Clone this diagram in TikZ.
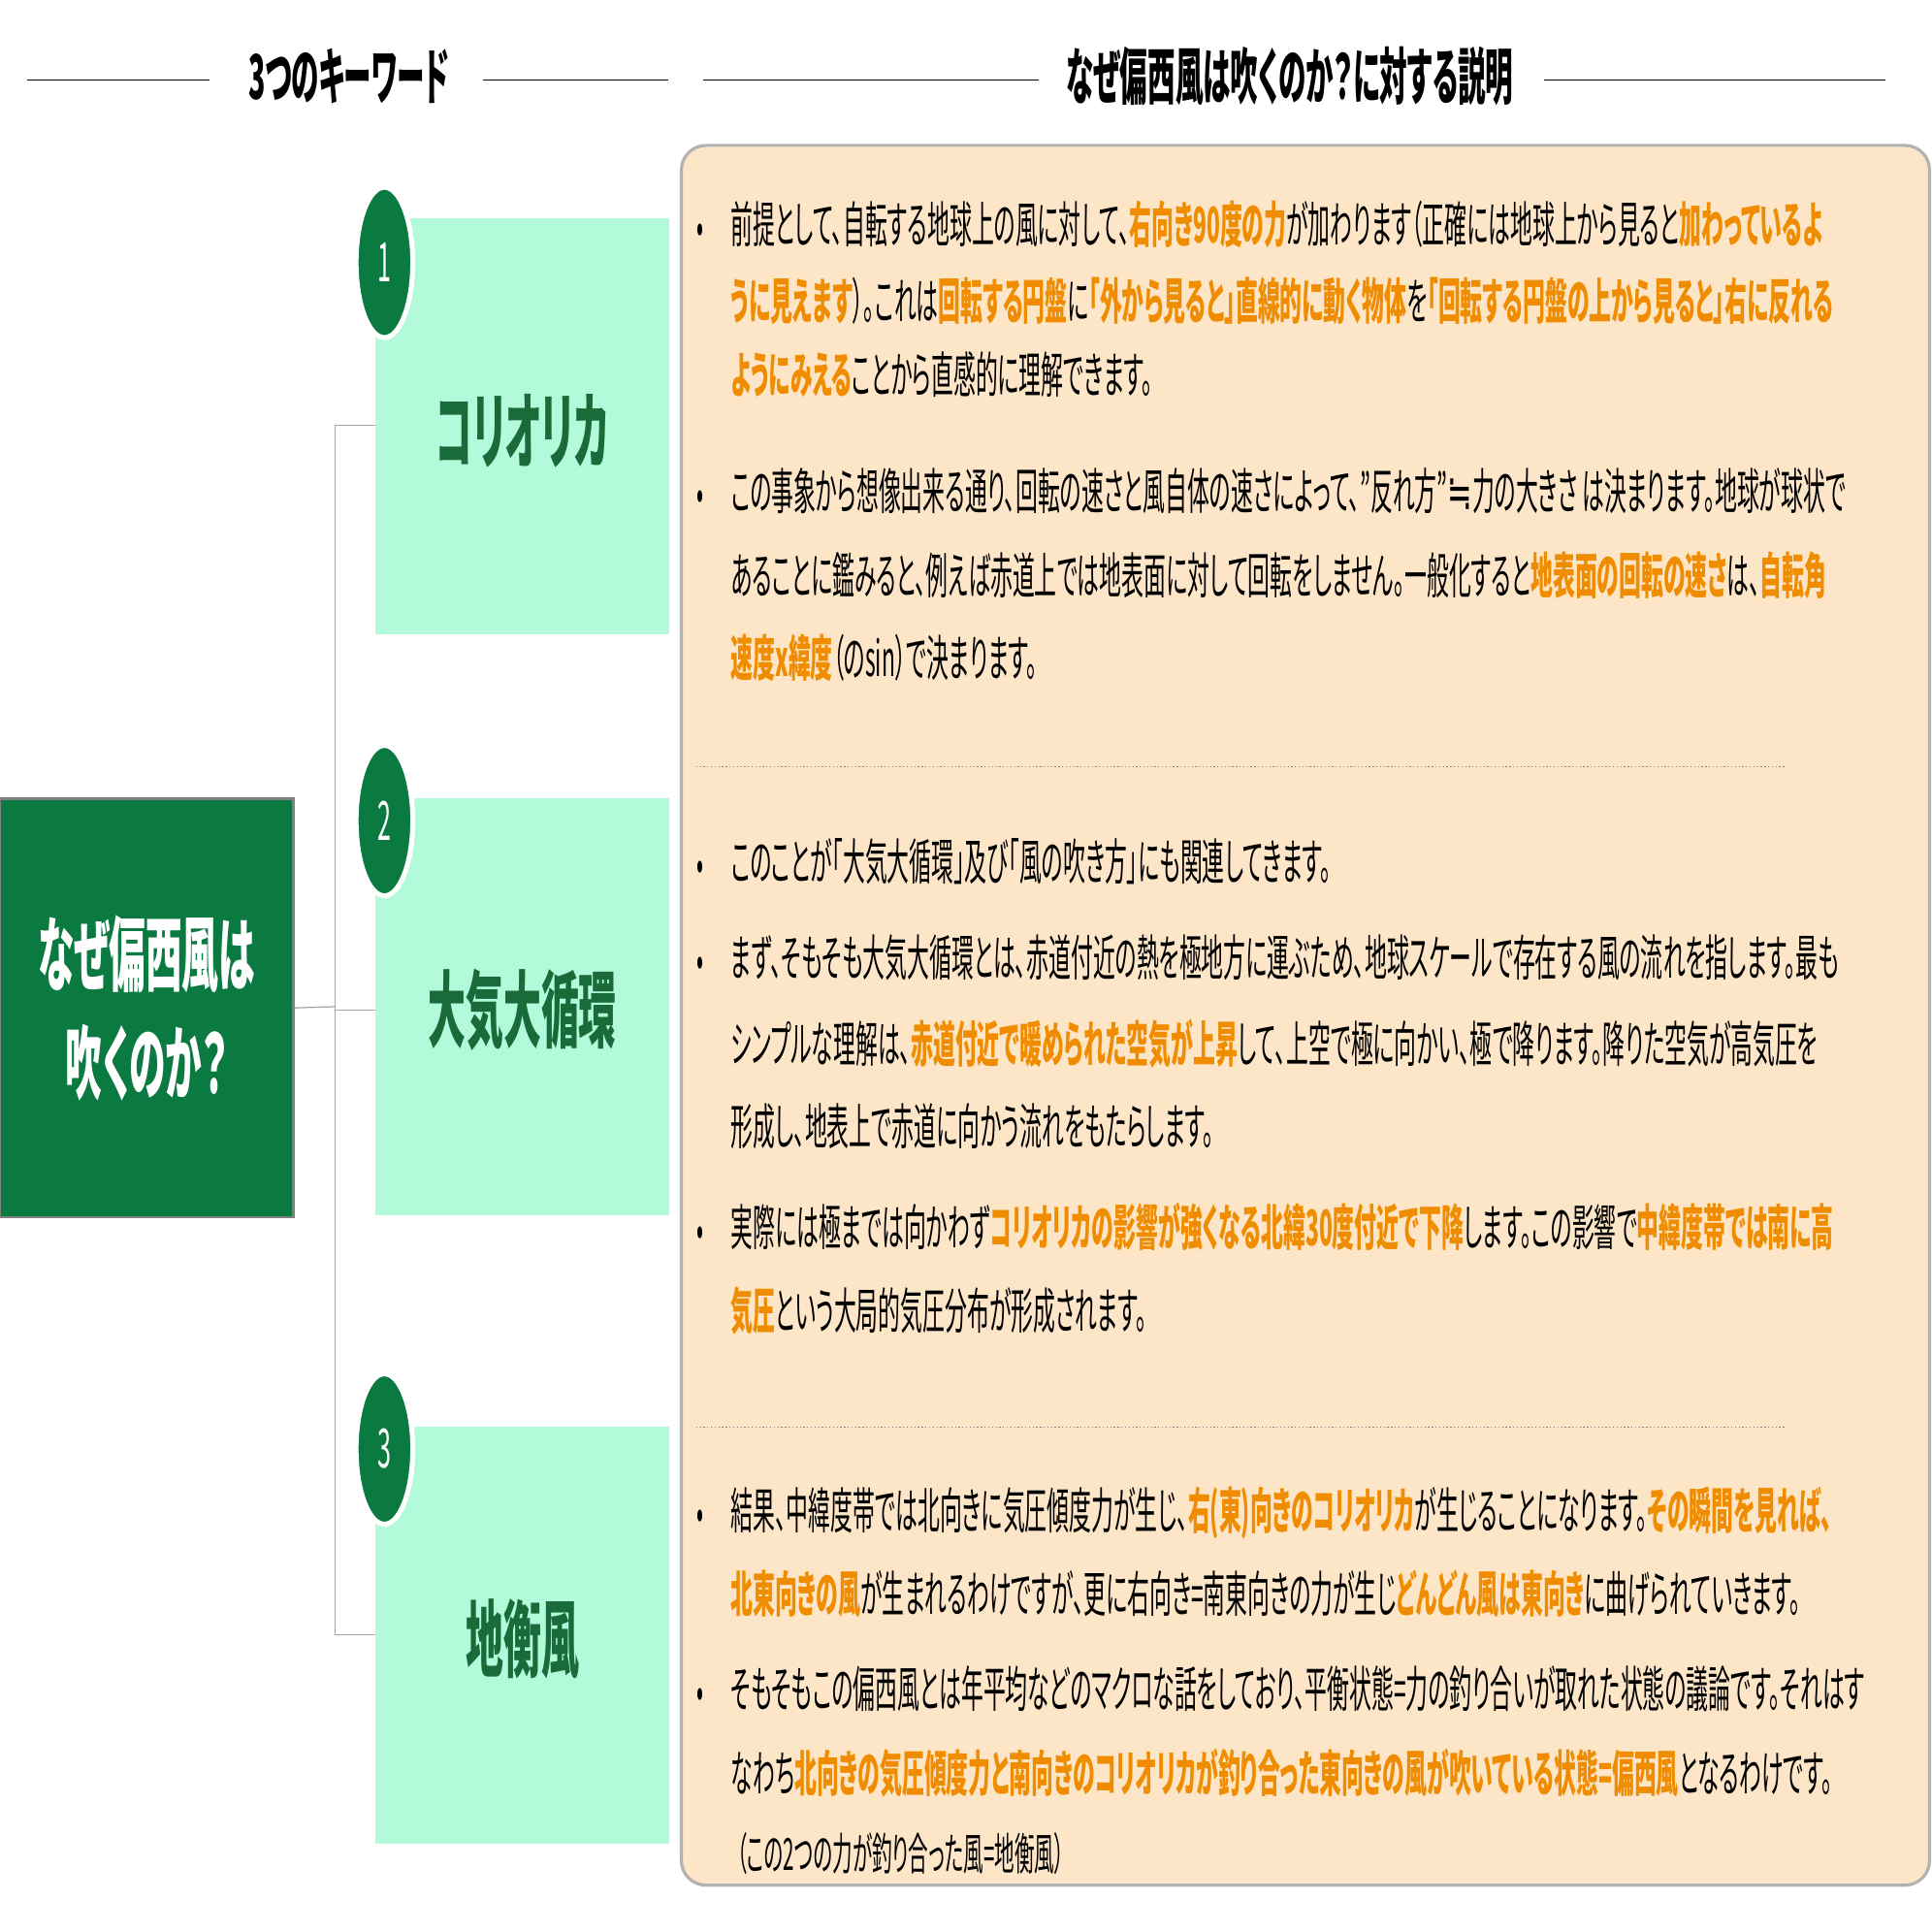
\documentclass[tikz,border=0pt]{standalone}
\usepackage{fontspec}
\newfontfamily\jp[FakeStretch=0.45,RawFeature=+palt]{Noto Sans CJK JP}
\newfontfamily\dv[FakeStretch=0.6]{DejaVu Sans}
\definecolor{dg}{HTML}{0A7A40}
\definecolor{kg}{HTML}{1A6B3A}
\definecolor{mint}{HTML}{B3FADB}
\definecolor{peach}{HTML}{FDE5C8}
\definecolor{org}{HTML}{F08C00}
\newcommand{\hl}[1]{\textbf{\color{org}#1}}
\tikzset{
 body/.style={anchor=base west,inner sep=0,font=\jp\fontsize{40}{40}\selectfont},
 bul/.style={anchor=base,inner sep=0,font=\jp\fontsize{36}{36}\selectfont},
 kw/.style={fill=mint,draw=none},
 num/.style={ellipse,fill=dg,draw=white,line width=4pt,minimum width=46pt,minimum height=122pt,inner sep=0,text=white,font=\jp\itshape\fontsize{44}{44}\selectfont},
 kwt/.style={text=kg,font=\jp\bfseries\fontsize{68}{68}\selectfont},
 conn/.style={draw=gray!70,line width=1pt},
 hdr/.style={font=\jp\bfseries\fontsize{50}{50}\selectfont},
 hline/.style={line width=1pt},
 sep/.style={dotted,draw=gray,line width=1pt}
}
\usetikzlibrary{shapes.geometric}
\begin{document}
\begin{tikzpicture}[x=1pt,y=-1pt]
\useasboundingbox (0,0) rectangle (1568,1568);
% header
\draw[hline] (22,65) -- (170,65); \draw[hline] (392,65) -- (542,65);
\draw[hline] (571,65) -- (843,65); \draw[hline] (1253,65) -- (1530,65);
\node[hdr] (h1) at (283,62) {3つのキーワード};
\node[hdr] (h2) at (1047,62) {なぜ偏西風は吹くのか？に対する説明};
% left box
\node[fill=dg,draw=gray,line width=2pt,minimum width=238pt,minimum height=340pt,text=white,font=\jp\bfseries\fontsize{66}{88}\selectfont,align=center] (L) at (119,818) {なぜ偏西風は\\吹くのか？};
% keyword boxes
\node[kw,minimum width=238pt,minimum height=338pt] (k1) at (424,346) {};
\node[kw,minimum width=238pt,minimum height=339pt] (k2) at (424,817) {};
\node[kw,minimum width=238pt,minimum height=339pt] (k3) at (424,1327) {};
\node[kwt] at (424,350) {コリオリカ};
\node[kwt] at (424,820) {大気大循環};
\node[kwt] at (424,1330) {地衡風};
\node[num] (n1) at (312,213) {1};
\node[num] (n2) at (312,666) {2};
\node[num] (n3) at (312,1176) {3};
% connectors
\coordinate (j) at (272,817);
\draw[conn] (L.east) -- (j);
\draw[conn] (272,345) -- (272,1327);
\draw[conn] (272,345) -- (k1.west|-0,345);
\draw[conn] (272,820) -- (k2.west|-0,820);
\draw[conn] (272,1327) -- (k3.west);
% right panel
\draw[fill=peach,draw=gray!60,line width=2.5pt,rounded corners=20pt] (553,118) rectangle (1566,1530);
\draw[sep] (565,622) -- (1448,622);
\draw[sep] (565,1158) -- (1448,1158);
\foreach \y in {197,414,714,792,1011,1241,1386} \node[bul] at (568,\y) {•};
\node[body] at (593,197) {前提として、自転する地球上の風に対して、\hl{右向き90度の力}が加わります（正確には地球上から見ると\hl{加わっているよ}};
\node[body] at (593,259) {\hl{うに見えます}）。これは\hl{回転する円盤}に\hl{「外から見ると」直線的に動く物体}を\hl{「回転する円盤の上から見ると」右に反れる}};
\node[body] at (593,319) {\hl{ようにみえる}ことから直感的に理解できます。};
\node[body] at (593,414) {この事象から想像出来る通り、回転の速さと風自体の速さによって、”反れ方”{\dv ≒}力の大きさ は決まります。地球が球状で};
\node[body] at (593,482) {あることに鑑みると、例えば赤道上では地表面に対して回転をしません。一般化すると\hl{地表面の回転の速さ}は、\hl{自転角}};
\node[body] at (593,549) {\hl{速度x緯度}（のsin）で決まります。};
\node[body] at (593,714) {このことが「大気大循環」及び「風の吹き方」にも関連してきます。};
\node[body] at (593,792) {まず、そもそも大気大循環とは、赤道付近の熱を極地方に運ぶため、地球スケールで存在する風の流れを指します。最も};
\node[body] at (593,862) {シンプルな理解は、\hl{赤道付近で暖められた空気が上昇}して、上空で極に向かい、極で降ります。降りた空気が高気圧を};
\node[body] at (593,929) {形成し、地表上で赤道に向かう流れをもたらします。};
\node[body] at (593,1011) {実際には極までは向かわず\hl{コリオリカの影響が強くなる北緯30度付近で下降}します。この影響で\hl{中緯度帯では南に高}};
\node[body] at (593,1079) {\hl{気圧}という大局的気圧分布が形成されます。};
\node[body] at (593,1241) {結果、中緯度帯では北向きに気圧傾度力が生じ、\hl{右(東)向きのコリオリカ}が生じることになります。\hl{その瞬間を見れば、}};
\node[body] at (593,1309) {\hl{北東向きの風}が生まれるわけですが、更に右向き=南東向きの力が生じ\hl{どんどん風は東向き}に曲げられていきます。};
\node[body] at (593,1386) {そもそもこの偏西風とは年平均などのマクロな話をしており、平衡状態=力の釣り合いが取れた状態の議論です。それはす};
\node[body] at (593,1454) {なわち\hl{北向きの気圧傾度力と南向きのコリオリカが釣り合った東向きの風が吹いている状態=偏西風}となるわけです。};
\node[body,font=\jp\fontsize{36}{36}\selectfont] at (598,1518) {（この2つの力が釣り合った風=地衡風）};
\end{tikzpicture}
\end{document}
